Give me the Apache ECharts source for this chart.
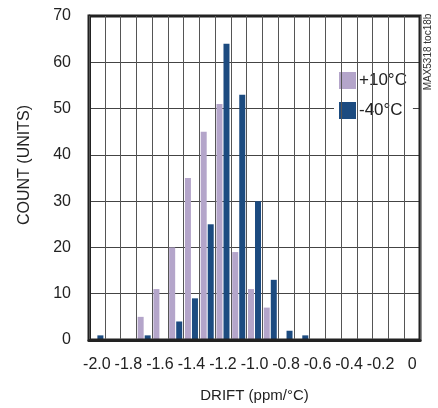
<!DOCTYPE html>
<html>
<head>
<meta charset="utf-8">
<script src="https://cdn.jsdelivr.net/npm/echarts@6/dist/echarts.min.js"></script>
<style>
html,body{margin:0;padding:0;background:#fff;}
#c{width:438px;height:408px;}
</style>
</head>
<body>
<div id="c"></div>
<script>
var categories = ['-2.0','-1.9','-1.8','-1.7','-1.6','-1.5','-1.4','-1.3','-1.2','-1.1','-1.0','-0.9','-0.8','-0.7','-0.6','-0.5','-0.4','-0.3','-0.2','-0.1','0'];
var plus10 = [0,0,0,5,11,20,35,45,51,19,11,7,0,0,0,0,0,0,0,0,0];
var minus40 = [1,0,0,1,0,4,9,25,64,53,30,13,2,1,0,0,0,0,0,0,0];
var yTicks = [0,10,20,30,40,50,60,70];
var seriesNames = ['+10°C','-40°C'];

var FONT = '"Liberation Sans Narrow", "Arial Narrow", "Liberation Sans", sans-serif';
var chart = echarts.init(document.getElementById('c'), null, {renderer:'canvas'});
chart.setOption({
  animation: false,
  backgroundColor: '#fff',
  textStyle: {fontFamily: FONT},
  grid: {left: 89, right: 18, top: 16, bottom: 61, show: true, borderColor: '#222', borderWidth: 3, backgroundColor: 'transparent', z: 5},
  legend: {
    data: seriesNames, orient: 'vertical', left: 334, top: 65,
    itemWidth: 17, itemHeight: 17, itemGap: 13,
    padding: [7, 6, 5, 5], backgroundColor: '#fff',
    textStyle: {fontFamily: FONT, fontSize: 17, color: '#222', padding: [0,0,0,-2]},
    icon: 'rect'
  },
  xAxis: {
    type: 'category', data: categories, boundaryGap: true, z: 10,
    name: 'DRIFT (ppm/°C)', nameLocation: 'middle', nameGap: 48,
    nameTextStyle: {fontFamily: FONT, fontSize: 15, color: '#222'},
    axisLine: {show: true, lineStyle: {color: '#222', width: 3}},
    axisTick: {show: false},
    axisLabel: {interval: 1, margin: 17, fontFamily: FONT, fontSize: 16, color: '#222'},
    splitLine: {show: true, interval: 0, lineStyle: {color: '#555', width: 1}}
  },
  yAxis: {
    type: 'value', min: 0, max: 70, interval: 10,
    axisLine: {show: true, lineStyle: {color: '#222', width: 3}},
    axisTick: {show: false},
    axisLabel: {margin: 18, fontFamily: FONT, fontSize: 16, color: '#222',
      formatter: function(v){ return yTicks.indexOf(v) >= 0 ? String(v) : ''; }},
    splitLine: {show: true, lineStyle: {color: '#444', width: 1}}
  },
  series: [
    {name: seriesNames[0], type: 'bar', data: plus10, barWidth: 6, barGap: '17%', itemStyle: {color: '#B4A5CA'}},
    {name: seriesNames[1], type: 'bar', data: minus40, barWidth: 6, barGap: '17%', itemStyle: {color: '#1C4B80'}}
  ],
  graphic: [
    {type: 'text', x: 25, y: 165, rotation: Math.PI/2,
     style: {text: 'COUNT (UNITS)', fontFamily: FONT, fontSize: 16, fill: '#222', align: 'center', verticalAlign: 'middle'}},
    {type: 'text', x: 428, y: 52, rotation: Math.PI/2,
     style: {text: 'MAX5318 toc18b', fontFamily: FONT, fontSize: 10, fill: '#333', align: 'center', verticalAlign: 'middle'}}
  ]
});
</script>
</body>
</html>
